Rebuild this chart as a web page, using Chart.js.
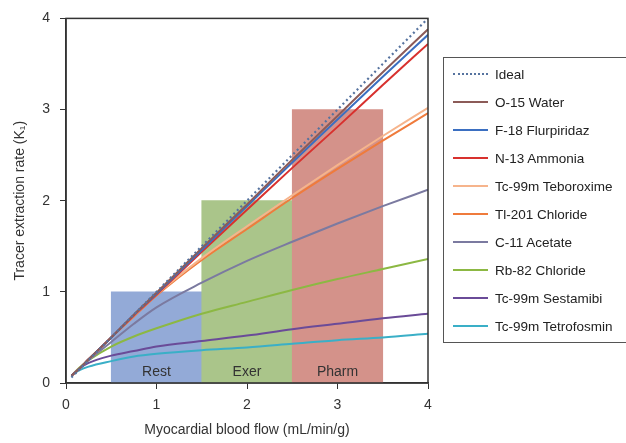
<!DOCTYPE html>
<html>
<head>
<meta charset="utf-8">
<script src="https://cdn.jsdelivr.net/npm/chart.js@4/dist/chart.umd.min.js"></script>
<style>
  body { margin: 0; background: #fff; font-family: "Liberation Sans", Arial, sans-serif; }
  #wrap { position: relative; width: 626px; height: 443px; overflow: hidden; }
  #legend { position: absolute; left: 443px; top: 57px; width: 190px; border: 1px solid #555;
            padding: 2px 0 2px 0; box-sizing: border-box; }
  .row { height: 28px; display: flex; align-items: center; font-size: 13.5px; color: #222; }
  .sw { width: 35px; margin-left: 9px; margin-right: 7px; height: 0; }
</style>
</head>
<body>
<div id="wrap">
  <canvas id="mycanvas" width="626" height="443"></canvas>
  <div id="legend"></div>
</div>
<script>
// flow values where the curves were read (mL/min/g)
var flow = [0.06, 0.15, 0.25, 0.5, 0.75, 1, 1.5, 2, 2.5, 3, 3.5, 4];

var ideal       = [0.06, 0.15, 0.25, 0.5, 0.75, 1, 1.5, 2, 2.5, 3, 3.5, 4];
var water       = [0.08, 0.16, 0.26, 0.5, 0.75, 0.99, 1.48, 1.96, 2.45, 2.93, 3.41, 3.88];
var flurpiridaz = [0.08, 0.16, 0.26, 0.5, 0.75, 0.98, 1.46, 1.94, 2.42, 2.89, 3.36, 3.82];
var ammonia     = [0.08, 0.16, 0.26, 0.5, 0.74, 0.97, 1.44, 1.90, 2.36, 2.81, 3.27, 3.72];
var teboroxime  = [0.08, 0.16, 0.26, 0.5, 0.74, 0.97, 1.37, 1.72, 2.06, 2.39, 2.71, 3.02];
var thallium    = [0.08, 0.16, 0.26, 0.5, 0.73, 0.96, 1.35, 1.69, 2.03, 2.35, 2.66, 2.96];
var acetate     = [0.08, 0.16, 0.25, 0.45, 0.65, 0.83, 1.10, 1.34, 1.55, 1.75, 1.94, 2.12];
var rubidium    = [0.08, 0.17, 0.25, 0.40, 0.51, 0.60, 0.76, 0.89, 1.02, 1.14, 1.25, 1.36];
var sestamibi   = [0.08, 0.16, 0.22, 0.30, 0.35, 0.40, 0.46, 0.52, 0.59, 0.65, 0.71, 0.76];
var tetrofosmin = [0.08, 0.14, 0.18, 0.24, 0.29, 0.32, 0.36, 0.39, 0.43, 0.47, 0.50, 0.54];

var tracerNames  = ['Ideal', 'O-15 Water', 'F-18 Flurpiridaz', 'N-13 Ammonia', 'Tc-99m Teboroxime',
                    'Tl-201 Chloride', 'C-11 Acetate', 'Rb-82 Chloride', 'Tc-99m Sestamibi', 'Tc-99m Tetrofosmin'];
var tracerValues = [ideal, water, flurpiridaz, ammonia, teboroxime, thallium, acetate, rubidium, sestamibi, tetrofosmin];
var tracerColors = ['#56739f', '#8c5b58', '#3b6fc1', '#d8312e', '#f6b48c', '#ef7b3c',
                    '#7b7aa0', '#8cb843', '#6a4b98', '#3aafc7'];

// stress states shown as background bars
var barLabels  = ['Rest', 'Exer', 'Pharm'];
var barCenters = [1, 2, 3];
var barHeights = [1, 2, 3];
var barColors  = ['#93aad7', '#aac58a', '#d4928a'];

var datasets = [];
for (var i = 0; i < tracerNames.length; i++) {
	var pts = [];
	for (var j = 0; j < flow.length; j++) pts.push({x: flow[j], y: tracerValues[i][j]});
	datasets.push({
		type: 'line',
		label: tracerNames[i],
		data: pts,
		borderColor: tracerColors[i],
		borderWidth: i == 0 ? 2.2 : 2,
		borderDash: i == 0 ? [2, 3] : [],
		pointRadius: 0,
		cubicInterpolationMode: 'monotone',
		order: 1
	});
}
var barPts = [];
for (var k = 0; k < barCenters.length; k++) barPts.push({x: barCenters[k], y: barHeights[k]});
datasets.push({
	type: 'bar',
	label: 'states',
	data: barPts,
	backgroundColor: barColors,
	barPercentage: 1,
	categoryPercentage: 1,
	grouped: false,
	order: 10
});

var frameAndLabels = {
	id: 'frameAndLabels',
	afterDatasetsDraw: function(chart) {
		var ctx = chart.ctx, a = chart.chartArea;
		var xs = chart.scales.x, ys = chart.scales.y;
		ctx.save();
		ctx.fillStyle = '#333';
		ctx.font = '14px "Liberation Sans", Arial, sans-serif';
		ctx.textAlign = 'center';
		ctx.textBaseline = 'middle';
		for (var k = 0; k < barLabels.length; k++) {
			ctx.fillText(barLabels[k], xs.getPixelForValue(barCenters[k]), ys.getPixelForValue(0) - 11);
		}
		ctx.strokeStyle = '#333';
		ctx.lineWidth = 1.5;
		ctx.strokeRect(a.left, a.top, a.right - a.left, a.bottom - a.top);
		ctx.restore();
	}
};

var tickFont = {family: '"Liberation Sans", Arial, sans-serif', size: 14};

new Chart(document.getElementById('mycanvas'), {
	type: 'line',
	data: {datasets: datasets},
	options: {
		responsive: false,
		animation: false,
		layout: {padding: {top: 16, right: 198, left: 8, bottom: 0}},
		plugins: {legend: {display: false}, tooltip: {enabled: false}},
		scales: {
			x: {
				type: 'linear', min: 0, max: 4, offset: false,
				grid: {drawOnChartArea: false, drawTicks: true, tickLength: 6, color: '#333', offset: false},
				border: {color: '#333', width: 1.5},
				ticks: {stepSize: 1, color: '#333', font: tickFont, padding: 8},
				title: {display: true, text: 'Myocardial blood flow (mL/min/g)', color: '#333', font: tickFont, padding: {top: 13}},
				afterFit: function(s) { s.height = 60; }
			},
			y: {
				type: 'linear', min: 0, max: 4,
				grid: {drawOnChartArea: false, drawTicks: true, tickLength: 6, color: '#333'},
				border: {color: '#333', width: 1.5},
				ticks: {stepSize: 1, color: '#333', font: tickFont, padding: 10},
				title: {display: true, text: 'Tracer extraction rate (K\u2081)', color: '#333', font: tickFont, padding: {bottom: 8}},
				afterFit: function(s) { s.width = 58; }
			}
		}
	},
	plugins: [frameAndLabels]
});

// legend box on the right
var leg = document.getElementById('legend');
for (var i = 0; i < tracerNames.length; i++) {
	var row = document.createElement('div');
	row.className = 'row';
	var sw = document.createElement('span');
	sw.className = 'sw';
	sw.style.borderTop = (i == 0 ? '2px dotted ' : '2.5px solid ') + tracerColors[i];
	var txt = document.createElement('span');
	txt.textContent = tracerNames[i];
	row.appendChild(sw);
	row.appendChild(txt);
	leg.appendChild(row);
}
</script>
</body>
</html>
